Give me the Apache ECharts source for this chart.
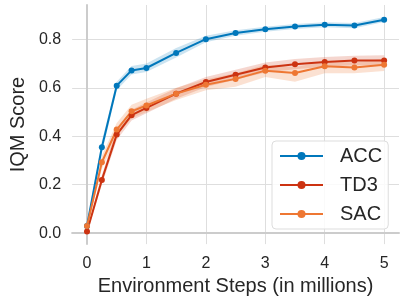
<!DOCTYPE html>
<html><head><meta charset="utf-8">
<script src="https://cdn.jsdelivr.net/npm/echarts@6/dist/echarts.min.js"></script>
<style>html,body{margin:0;padding:0;background:#fff}#c{width:407px;height:301px}</style>
</head><body><div id="c"></div>
<script>
const steps = [0, 0.25, 0.5, 0.75, 1, 1.5, 2, 2.5, 3, 3.5, 4, 4.5, 5];
const xTicks = [0, 1, 2, 3, 4, 5];
const yTicks = [0, 0.2, 0.4, 0.6, 0.8];

const accMean  = [0.03, 0.355, 0.609, 0.672, 0.682, 0.744, 0.801, 0.826, 0.842, 0.853, 0.860, 0.857, 0.881];
const accLower = [0.02, 0.330, 0.590, 0.655, 0.665, 0.725, 0.788, 0.815, 0.832, 0.843, 0.850, 0.846, 0.872];
const accUpper = [0.04, 0.380, 0.625, 0.690, 0.700, 0.765, 0.815, 0.838, 0.852, 0.864, 0.871, 0.868, 0.892];

const td3Mean  = [0.007, 0.220, 0.407, 0.487, 0.517, 0.576, 0.624, 0.654, 0.684, 0.697, 0.707, 0.713, 0.713];
const td3Lower = [0.000, 0.200, 0.385, 0.465, 0.495, 0.555, 0.603, 0.633, 0.663, 0.677, 0.687, 0.693, 0.693];
const td3Upper = [0.015, 0.240, 0.430, 0.510, 0.540, 0.598, 0.645, 0.675, 0.705, 0.719, 0.727, 0.733, 0.735];

const sacMean  = [0.030, 0.293, 0.428, 0.503, 0.527, 0.576, 0.613, 0.637, 0.671, 0.661, 0.689, 0.684, 0.695];
const sacLower = [0.020, 0.265, 0.400, 0.475, 0.500, 0.550, 0.590, 0.605, 0.645, 0.625, 0.660, 0.660, 0.670];
const sacUpper = [0.040, 0.320, 0.455, 0.530, 0.555, 0.600, 0.635, 0.660, 0.695, 0.685, 0.710, 0.705, 0.720];

const seriesDefs = [
  {name: 'ACC', color: '#0077BB', band: 'rgba(0,119,187,0.2)', mean: accMean, lower: accLower, upper: accUpper},
  {name: 'TD3', color: '#CC3311', band: 'rgba(204,51,17,0.2)', mean: td3Mean, lower: td3Lower, upper: td3Upper},
  {name: 'SAC', color: '#EE7733', band: 'rgba(238,119,51,0.22)', mean: sacMean, lower: sacLower, upper: sacUpper}
];

const series = [];
seriesDefs.forEach(function (d) {
  const bandData = steps.map(function (x, i) { return [x, d.lower[i], d.upper[i]]; });
  series.push({
    type: 'custom', name: d.name + '_band', silent: true, z: 1,
    encode: {x: 0, y: [1, 2]},
    data: [bandData[0]].concat(bandData.slice(1)),
    renderItem: function (params, api) {
      if (params.dataIndex !== 0) return null;
      const pts = [];
      for (let i = 0; i < bandData.length; i++) pts.push(api.coord([bandData[i][0], bandData[i][2]]));
      for (let i = bandData.length - 1; i >= 0; i--) pts.push(api.coord([bandData[i][0], bandData[i][1]]));
      return {type: 'polygon', shape: {points: pts}, style: {fill: d.band, stroke: null}};
    }
  });
});
seriesDefs.forEach(function (d) {
  series.push({
    type: 'line', name: d.name, symbol: 'circle', symbolSize: 6,
    itemStyle: {color: d.color}, lineStyle: {color: d.color, width: 2},
    data: steps.map(function (x, i) { return [x, d.mean[i]]; }), z: 3
  });
});

const chart = echarts.init(document.getElementById('c'), null, {renderer: 'canvas'});
chart.setOption({
  animation: false,
  backgroundColor: '#fff',
  textStyle: {fontFamily: 'Liberation Sans, Arial, sans-serif'},
  grid: {left: 63.75, right: 8, top: 5, bottom: 56, containLabel: false},
  xAxis: {
    type: 'value', min: -0.25, max: 5.25, offset: 8,
    name: 'Environment Steps (in millions)', nameLocation: 'middle', nameGap: 20,
    nameTextStyle: {fontSize: 20, color: '#262626', fontFamily: 'Liberation Sans, Arial, sans-serif'},
    axisLine: {show: true, lineStyle: {color: '#cccccc', width: 2}},
    axisTick: {show: false, customValues: xTicks},
    axisLabel: {customValues: xTicks, fontSize: 16, color: '#262626', margin: 3,
      fontFamily: 'Liberation Sans, Arial, sans-serif'},
    splitLine: {show: true, lineStyle: {color: '#dedede', width: 1}}
  },
  yAxis: {
    type: 'value', min: -0.045, max: 0.942, offset: 8,
    name: 'IQM Score', nameLocation: 'middle', nameGap: 33,
    nameTextStyle: {fontSize: 20, color: '#262626', fontFamily: 'Liberation Sans, Arial, sans-serif'},
    axisLine: {show: true, lineStyle: {color: '#cccccc', width: 2}},
    axisTick: {show: false, customValues: yTicks},
    axisLabel: {customValues: yTicks, fontSize: 16, color: '#262626', margin: 3,
      formatter: function (v) { return v.toFixed(1); },
      fontFamily: 'Liberation Sans, Arial, sans-serif'},
    splitLine: {show: true, lineStyle: {color: '#dedede', width: 1}}
  },
  legend: {
    data: ['ACC', 'TD3', 'SAC'],
    left: 272, top: 141, orient: 'vertical',
    itemWidth: 43, itemHeight: 10, itemGap: 9,
    padding: [5, 6, 5, 7],
    backgroundColor: 'rgba(255,255,255,0.85)', borderColor: '#dddddd', borderWidth: 1, borderRadius: 4,
    textStyle: {fontSize: 20, color: '#262626', lineHeight: 20, padding: [0, 0, 0, 12],
      fontFamily: 'Liberation Sans, Arial, sans-serif'}
  },
  series: series
});
</script></body></html>
